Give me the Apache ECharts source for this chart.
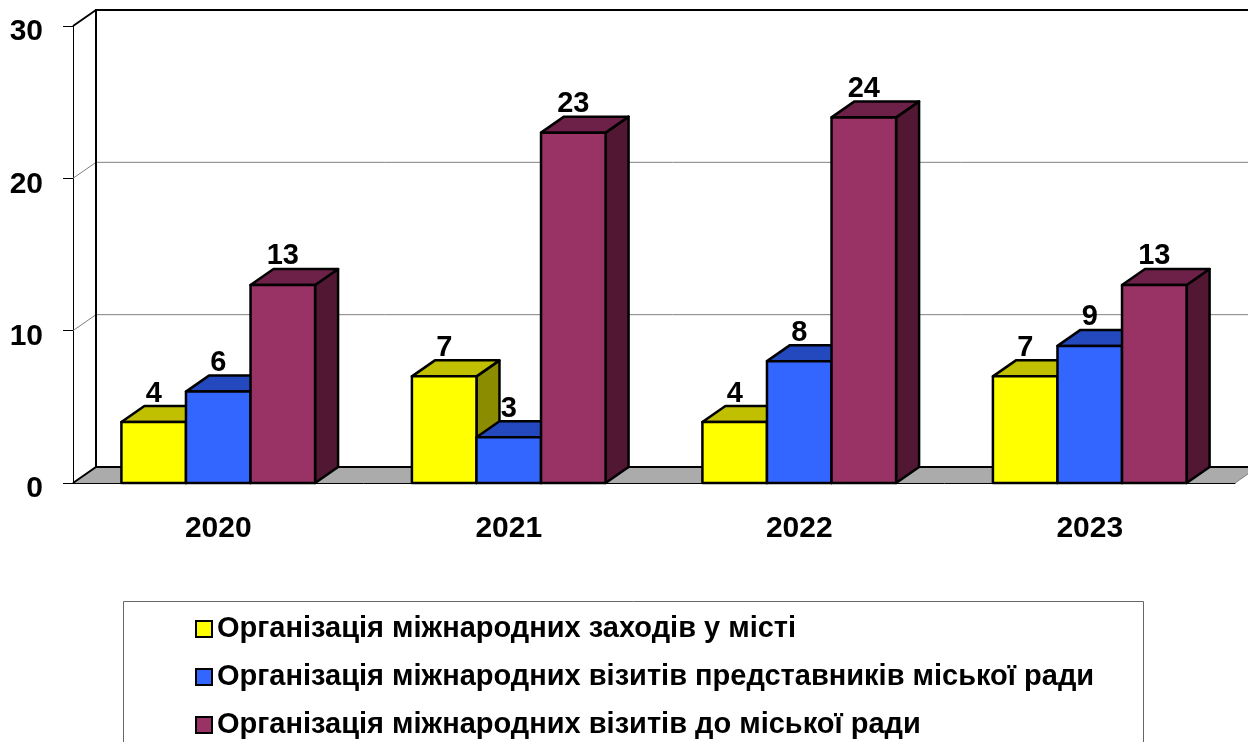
<!DOCTYPE html>
<html>
<head>
<meta charset="utf-8">
<script src="https://cdn.jsdelivr.net/npm/echarts@6/dist/echarts.min.js"></script>
<style>
  html, body { margin: 0; padding: 0; background: #fff; }
  #chart { width: 1248px; height: 742px; }
</style>
</head>
<body>
<div id="chart"></div>
<script>
// data
const years = ['2020', '2021', '2022', '2023']
const events = [4, 7, 4, 7]          // Організація міжнародних заходів у місті
const visitsOut = [6, 3, 8, 9]       // візити представників міської ради
const visitsIn = [13, 23, 24, 13]    // візити до міської ради
const yTicks = [0, 10, 20, 30]

const names = [
  'Організація міжнародних заходів у місті',
  'Організація міжнародних візитів представників міської ради',
  'Організація міжнародних візитів до міської ради'
]
const faces = [
  { front: '#FFFF00', top: '#C0C000', side: '#8C8C00' },
  { front: '#3366FF', top: '#2449BF', side: '#1A3380' },
  { front: '#993366', top: '#6E2148', side: '#521733' }
]
const DX = 23, DY = -16
const FONT = 'bold 29px "Liberation Sans", Arial, sans-serif'

const chart = echarts.init(document.getElementById('chart'))

function frameItem(params, api) {
  const cs = params.coordSys
  const x0 = cs.x, x1 = cs.x + cs.width
  const y0 = api.coord([0, 0])[1]
  const yMax = api.coord([0, yTicks[yTicks.length - 1]])[1]
  const children = []
  // floor
  children.push({
    type: 'polygon',
    shape: { points: [[x0, y0], [x1, y0], [x1 + DX, y0 + DY], [x0 + DX, y0 + DY]] },
    style: { fill: '#ABABAB', stroke: null }
  })
  children.push({
    type: 'polyline',
    shape: { points: [[x0, y0], [x0 + DX, y0 + DY], [x1 + DX + 40, y0 + DY]] },
    style: { stroke: '#000', lineWidth: 2, fill: null }
  })
  children.push({
    type: 'line',
    shape: { x1: x1, y1: y0, x2: x1 + DX, y2: y0 + DY },
    style: { stroke: '#808080', lineWidth: 1 }
  })
  // grid lines on the back wall
  yTicks.slice(1, -1).forEach(function (v) {
    const y = api.coord([0, v])[1]
    children.push({
      type: 'polyline',
      shape: { points: [[x0, y], [x0 + DX, y + DY], [x1 + DX + 40, y + DY]] },
      style: { stroke: '#808080', lineWidth: 1, fill: null }
    })
  })
  // wall outline
  children.push({
    type: 'polyline',
    shape: { points: [[x0 + DX, y0 + DY], [x0 + DX, yMax + DY], [x1 + DX + 40, yMax + DY]] },
    style: { stroke: '#000', lineWidth: 2, fill: null }
  })
  children.push({
    type: 'line',
    shape: { x1: x0, y1: yMax, x2: x0 + DX, y2: yMax + DY },
    style: { stroke: '#000', lineWidth: 2 }
  })
  return { type: 'group', children: children }
}

function barRenderer(s) {
  return function (params, api) {
    const c = api.coord([api.value(0), api.value(1)])
    const base = api.coord([api.value(0), 0])
    const catW = api.size([1, 0])[0]
    const barW = catW / 4.5
    const left = c[0] - 1.5 * barW + s * barW
    const right = left + barW
    const top = c[1], bottom = base[1]
    const f = faces[s]
    const line = { stroke: '#000', lineWidth: 2.5, lineJoin: 'round' }
    return {
      type: 'group',
      children: [
        {
          type: 'polygon',
          shape: { points: [[right, top], [right + DX, top + DY], [right + DX, bottom + DY], [right, bottom]] },
          style: Object.assign({ fill: f.side }, line)
        },
        {
          type: 'polygon',
          shape: { points: [[left, top], [right, top], [right + DX, top + DY], [left + DX, top + DY]] },
          style: Object.assign({ fill: f.top }, line)
        },
        {
          type: 'rect',
          shape: { x: left, y: top, width: barW, height: bottom - top },
          style: Object.assign({ fill: f.front }, line)
        },
        {
          type: 'text',
          style: {
            x: (left + right) / 2,
            y: top + DY + 2,
            text: String(api.value(1)),
            font: FONT,
            fill: '#000',
            align: 'center',
            verticalAlign: 'bottom'
          }
        }
      ]
    }
  }
}

const seriesData = [events, visitsOut, visitsIn]

const option = {
  backgroundColor: '#fff',
  animation: false,
  grid: { left: 73, right: 13, top: 26, bottom: 259 },
  xAxis: {
    type: 'category',
    data: years,
    axisLine: { lineStyle: { color: '#000', width: 1 } },
    axisTick: { length: 7, lineStyle: { color: '#808080' } },
    axisLabel: { color: '#000', fontSize: 30, fontWeight: 'bold', fontFamily: 'Liberation Sans', margin: 31 }
  },
  yAxis: {
    type: 'value',
    min: 0,
    max: 30,
    interval: 10,
    axisLine: { show: true, lineStyle: { color: '#000', width: 1 } },
    axisTick: { show: true, length: 10, lineStyle: { color: '#000' } },
    splitLine: { show: false },
    axisLabel: {
      color: '#000', fontSize: 30, fontWeight: 'bold', fontFamily: 'Liberation Sans',
      margin: 30, verticalAlign: 'top', lineHeight: 12
    }
  },
  legend: {
    data: names,
    orient: 'vertical',
    left: 195,
    top: 614,
    padding: 0,
    icon: 'rect',
    itemWidth: 16,
    itemHeight: 16,
    itemGap: 18,
    itemStyle: { borderColor: '#000', borderWidth: 2 },
    textStyle: { color: '#000', fontSize: 29, fontWeight: 'bold', fontFamily: 'Liberation Sans', lineHeight: 30 }
  },
  graphic: [{
    type: 'rect',
    shape: { x: 123.5, y: 601.5, width: 1020, height: 200 },
    style: { fill: null, stroke: '#666', lineWidth: 1 },
    z: -1
  }],
  series: [{
    type: 'custom',
    name: 'frame',
    data: [[0, 0]],
    renderItem: frameItem,
    silent: true,
    z: 1
  }].concat(seriesData.map(function (vals, s) {
    return {
      type: 'custom',
      name: names[s],
      data: vals.map(function (v, i) { return [i, v] }),
      renderItem: barRenderer(s),
      itemStyle: { color: faces[s].front },
      z: 2 + s
    }
  }))
}

chart.setOption(option)
</script>
</body>
</html>
